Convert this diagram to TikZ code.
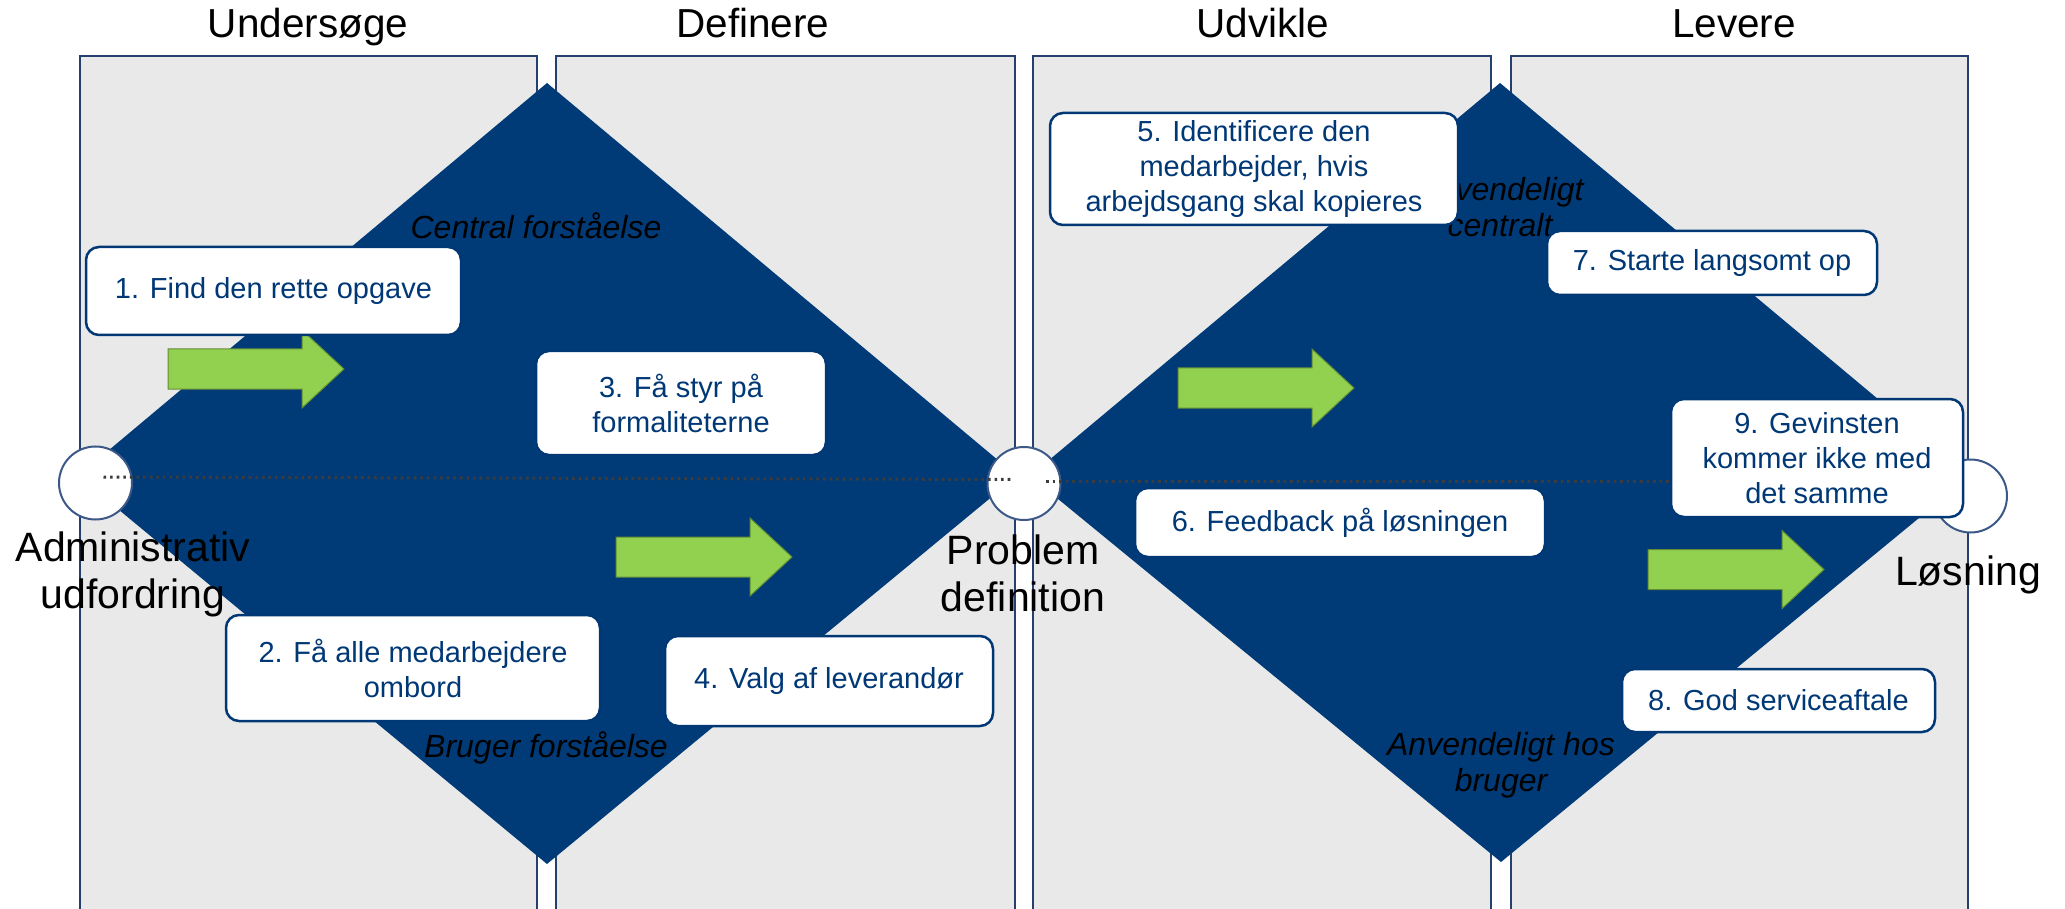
\documentclass[tikz,border=0pt]{standalone}
\usepackage{fontspec}
\setmainfont{Liberation Sans}
\definecolor{navy}{RGB}{0,59,120}
\definecolor{boxnavy}{RGB}{0,56,118}
\definecolor{panelgray}{RGB}{233,233,233}
\definecolor{panelline}{RGB}{38,64,110}
\definecolor{circline}{RGB}{60,88,135}
\definecolor{greenfill}{RGB}{146,208,80}
\definecolor{greenline}{RGB}{98,140,52}
\definecolor{dotgray}{RGB}{60,60,60}
\begin{document}
\begin{tikzpicture}[x=1pt,y=-1pt,
  panel/.style={fill=panelgray, draw=panelline, line width=1.8pt},
  diam/.style={fill=navy},
  endpt/.style={circle, draw=circline, line width=2pt, fill=white, minimum size=73pt, inner sep=0pt},
  dotline/.style={draw=dotgray, line width=3pt, dash pattern=on 2.6pt off 4pt},
  box/.style={draw=boxnavy, line width=2.5pt, fill=white, rounded corners=13pt, text=boxnavy, align=center, inner sep=0pt, font=\fontsize{29}{35}\selectfont},
  title/.style={font=\fontsize{40.5}{48}\selectfont, anchor=base},
  biglabel/.style={font=\fontsize{41}{47}\selectfont, align=center},
  ital/.style={font=\fontsize{32}{36.5}\selectfont\itshape, align=center},
  garrowstyle/.style={fill=greenfill, draw=greenline, line width=1pt},
  garrow/.pic={\path[garrowstyle] (0,-20) -- (134,-20) -- (134,-39) -- (176,0) -- (134,39) -- (134,20) -- (0,20) -- cycle;}
]
\useasboundingbox (0,0) rectangle (2065,909);
\clip (0,0) rectangle (2065,909);
\fill[white] (0,0) rectangle (2065,909);

% panels
\draw[panel] (80,930) -- (80,56) -- (537,56) -- (537,930);
\draw[panel] (556,930) -- (556,56) -- (1015,56) -- (1015,930);
\draw[panel] (1033,930) -- (1033,56) -- (1491,56) -- (1491,930);
\draw[panel] (1511,930) -- (1511,56) -- (1968,56) -- (1968,930);

% titles
\node[title] (t1) at (308,38) {Undersøge};
\node[title] (t2) at (753,38) {Definere};
\node[title] (t3) at (1263,38) {Udvikle};
\node[title] (t4) at (1734,38) {Levere};

% diamonds
\path[diam] (78,476) -- (547,83) -- (1017,476) -- (547,864) -- cycle;
\path[diam] (1030,476) -- (1500,83) -- (1970,476) -- (1501,862) -- cycle;

% end points
\node[endpt] (c1) at (95.5,483) {};
\node[endpt] (c2) at (1024,483.5) {};
\node[endpt] (c3) at (1970.5,496) {};
\coordinate (dotend) at (1690,481);

\draw[dotline] ([xshift=8pt,yshift=6pt]c1.center) -- ([xshift=-12pt,yshift=4pt]c2.center);
\draw[dotline] ([xshift=22pt,yshift=2.5pt]c2.center) -- (dotend);

% italic labels
\node[ital, anchor=base] (l1) at (536,239) {Central forståelse};
\node[ital, anchor=base] (l2) at (546,757) {Bruger forståelse};
\node[ital] (l3) at (1500,207) {Anvendeligt\\centralt};
\node[ital] (l4) at (1501,765) {Anvendeligt hos\\bruger};

% big labels
\node[biglabel] (a1) at (133,574.5) {Administrativ\\udfordring};
\node[biglabel] (a2) at (1023,573.5) {Problem\\definition};
\node[biglabel, anchor=base] (a3) at (1968,585) {Løsning};

% green arrows
\pic at (168,369) {garrow};
\pic at (616,557) {garrow};
\pic at (1178,388) {garrow};
\pic at (1648,569.5) {garrow};

% boxes
\node[box, minimum width=375pt, minimum height=88pt] (b1) at (273.5,291) {1. Find den rette opgave};
\node[box, minimum width=374pt, minimum height=106pt] (b2) at (413,668) {2. Få alle medarbejdere\\ombord};
\node[box, minimum width=290pt, minimum height=104pt] (b3) at (681,403) {3. Få styr på\\formaliteterne};
\node[box, minimum width=328pt, minimum height=90pt] (b4) at (829,681) {4. Valg af leverandør};
\node[box, minimum width=408pt, minimum height=112pt] (b5) at (1254,169) {5. Identificere den\\medarbejder, hvis\\arbejdsgang skal kopieres};
\node[box, minimum width=410pt, minimum height=69pt] (b6) at (1340,522.5) {6. Feedback på løsningen};
\node[box, minimum width=330pt, minimum height=64pt] (b7) at (1712,263) {7. Starte langsomt op};
\node[box, minimum width=313pt, minimum height=63pt] (b8) at (1778.5,700.5) {8. God serviceaftale};
\node[box, minimum width=292pt, minimum height=118pt] (b9) at (1817,458) {9. Gevinsten\\kommer ikke med\\det samme};
\end{tikzpicture}
\end{document}
